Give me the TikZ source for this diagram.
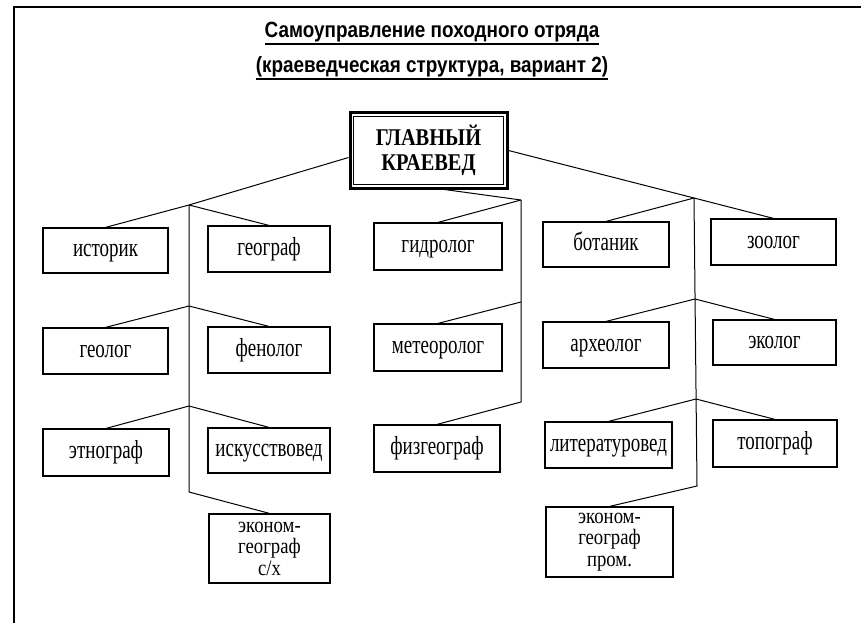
\documentclass[tikz,border=0pt]{standalone}
\usepackage{fontspec}
\setmainfont{Liberation Serif}[FakeStretch=0.73]
\newfontfamily\titlefont{Liberation Sans}[FakeStretch=0.86]
\newfontfamily\chieffont{Liberation Serif}[FakeStretch=0.85]
\newfontfamily\multifont{Liberation Serif}[FakeStretch=0.85]
\begin{document}
\begin{tikzpicture}[x=1pt,y=-1pt,
  box/.style={draw, line width=1.2pt, inner sep=0pt, align=center,
    font=\fontsize{26}{22}\selectfont},
  sbox/.style={box, text height=17pt, text depth=5pt},
  mbox/.style={box, font=\multifont\fontsize{22}{21.5}\selectfont},
  conn/.style={line width=1pt},
  ttl/.style={inner sep=0pt, font=\titlefont\bfseries\fontsize{22}{24}\selectfont},
  uline/.style={line width=1.8pt}]
\useasboundingbox (0,0) rectangle (861,623);
% frame
\draw[line width=2.5pt] (14,623) -- (14,7) -- (861,7);
% title
\node[ttl] (t1) at (432,32) {Самоуправление походного отряда};
\node[ttl] (t2) at (432,67) {(краеведческая структура, вариант 2)};
\draw[uline] ([yshift=-1.5pt]t1.south west) -- ([yshift=-1.5pt]t1.south east);
\draw[uline] ([yshift=-1.5pt]t2.south west) -- ([yshift=-1.5pt]t2.south east);
% main box
\node[draw, line width=3pt, minimum width=157pt, minimum height=75pt,
  align=center, inner sep=0pt,
  font=\chieffont\bfseries\fontsize{24}{25}\selectfont] (main) at (428.5,150.5) {ГЛАВНЫЙ\\КРАЕВЕД};
\draw[line width=1pt] ([shift={(5pt,-5pt)}]main.north west) rectangle ([shift={(-5pt,5pt)}]main.south east);
% left group
\node[sbox, minimum width=125pt, minimum height=45pt] (istorik) at (105.5,250.5) {историк};
\node[sbox, minimum width=122pt, minimum height=46pt] (geograf) at (269,249) {географ};
\node[sbox, minimum width=125pt, minimum height=46pt] (geolog) at (105.5,351) {геолог};
\node[sbox, minimum width=122pt, minimum height=46pt] (fenolog) at (269,350) {фенолог};
\node[sbox, minimum width=126pt, minimum height=47pt] (etnograf) at (106,452.5) {этнограф};
\node[sbox, minimum width=122pt, minimum height=45pt] (iskus) at (269,450.5) {искусствовед};
\node[mbox, minimum width=121pt, minimum height=69pt] (ekonsh) at (269.5,548.5) {эконом-\\географ\\с/х};
% center group
\node[sbox, minimum width=128pt, minimum height=47pt] (gidrolog) at (438,246.5) {гидролог};
\node[sbox, minimum width=128pt, minimum height=47pt] (meteo) at (438,347.5) {метеоролог};
\node[sbox, minimum width=126pt, minimum height=47pt] (fizgeo) at (437,448.5) {физгеограф};
% right group
\node[sbox, minimum width=126pt, minimum height=45pt] (botanik) at (606,244.5) {ботаник};
\node[sbox, minimum width=125pt, minimum height=46pt] (zoolog) at (773.5,242) {зоолог};
\node[sbox, minimum width=126pt, minimum height=46pt] (arheolog) at (606,345) {археолог};
\node[sbox, minimum width=123pt, minimum height=45pt] (ekolog) at (774.5,342.5) {эколог};
\node[sbox, minimum width=127pt, minimum height=46pt] (litved) at (608.5,445) {литературовед};
\node[sbox, minimum width=124pt, minimum height=47pt] (topograf) at (775,443.5) {топограф};
\node[mbox, minimum width=127pt, minimum height=70pt] (ekonprom) at (609.5,542) {эконом-\\географ\\пром.};
% junctions
\coordinate (L1) at (189,205);
\coordinate (L2) at (189,306);
\coordinate (L3) at (189,406);
\coordinate (L4) at (189,492);
\coordinate (C1) at (521,200);
\coordinate (C2) at (521,302);
\coordinate (C3) at (521,402);
\coordinate (R1) at (694,198);
\coordinate (R2) at (695,299);
\coordinate (R3) at (696,399);
\coordinate (R4) at (697,486);
% connectors
\draw[conn] ([yshift=-7pt]main.west) -- (L1);
\draw[conn] (main.east) -- (R1);
\draw[conn] ([xshift=16pt]main.south) -- (C1);
\draw[conn] (L1) -- (istorik.north);
\draw[conn] (L1) -- (geograf.north);
\draw[conn] (L2) -- (geolog.north);
\draw[conn] (L2) -- (fenolog.north);
\draw[conn] (L3) -- (etnograf.north);
\draw[conn] (L3) -- (iskus.north);
\draw[conn] (L1) -- (L4) -- (ekonsh.north);
\draw[conn] (C1) -- (gidrolog.north);
\draw[conn] (C2) -- (meteo.north);
\draw[conn] (C1) -- (C3) -- (fizgeo.north);
\draw[conn] (R1) -- (botanik.north);
\draw[conn] (R1) -- (zoolog.north);
\draw[conn] (R2) -- (arheolog.north);
\draw[conn] (R2) -- (ekolog.north);
\draw[conn] (R3) -- (litved.north);
\draw[conn] (R3) -- (topograf.north);
\draw[conn] (R1) -- (R4) -- (ekonprom.north);
\end{tikzpicture}
\end{document}
